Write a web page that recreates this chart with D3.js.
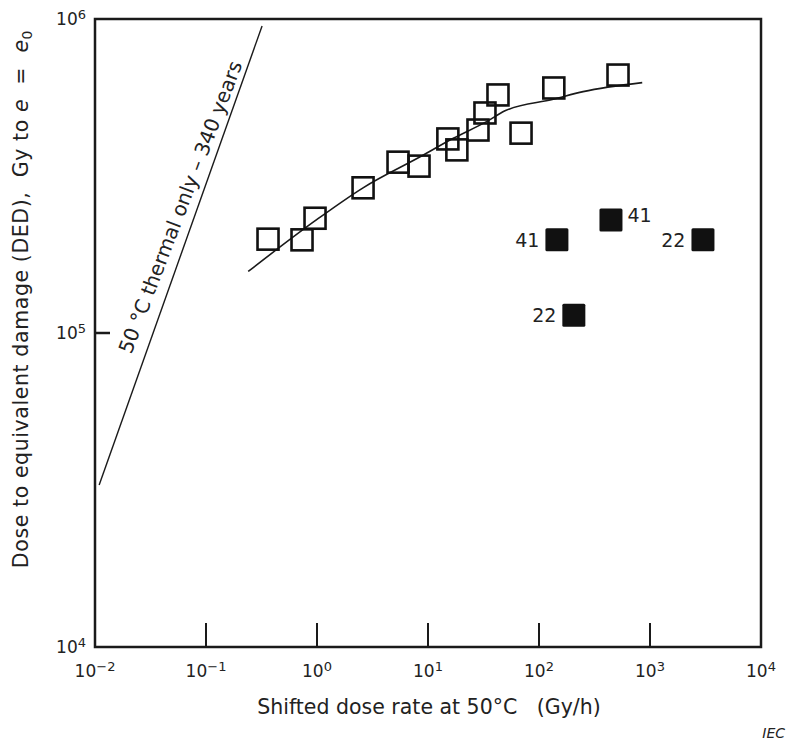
<html>
<head>
	<meta charset="UTF-8">
	<title>Dose to equivalent damage</title>
	<script src="https://cdn.jsdelivr.net/npm/d3@7"></script>
	<style>
		body {
			padding: 0;
			margin: 0;
			background: #fff;
		}
		text {
			font-family: "DejaVu Sans", sans-serif;
			fill: #222;
		}
	</style>
</head>
<body>
	<script>
		var w = 789,
			h = 744;

		// open squares (shifted dose rate Gy/h, DED Gy)
		var openX = [0.362, 0.733, 0.96, 2.6, 5.37, 8.3, 15.1, 18.2, 28.2, 32.6, 42.7, 68.9, 136, 515];
		var openY = [1.99e5, 1.98e5, 2.32e5, 2.9e5, 3.5e5, 3.4e5, 4.15e5, 3.83e5, 4.43e5, 5.02e5, 5.73e5, 4.33e5, 6.03e5, 6.63e5];

		// filled squares with their labels
		var filledX = [145, 445, 3000, 206];
		var filledY = [1.98e5, 2.29e5, 1.98e5, 1.14e5];
		var filledLabel = ["41", "41", "22", "22"];
		var labelSide = ["left", "right", "left", "left"];

		// fitted curve through the open squares
		var curveX = [0.24, 1.0, 2.6, 8.5, 16.9, 33.7, 49.4, 134.6, 250, 851];
		var curveY = [1.57e5, 2.3e5, 2.9e5, 3.64e5, 4.17e5, 4.71e5, 5.10e5, 5.55e5, 5.87e5, 6.27e5];

		// 50 °C thermal only line
		var thermalX = [0.0109, 0.32];
		var thermalY = [3.28e4, 9.5e5];

		var xTickExp = [-2, -1, 0, 1, 2, 3, 4];
		var yTickExp = [4, 5, 6];

		var x = d3.scaleLog().domain([1e-2, 1e4]).range([95, 761]);
		var y = d3.scaleLog().domain([1e4, 1e6]).range([647, 19]);

		var svg = d3.select("body").append("svg")
			.attr("width", w)
			.attr("height", h);

		// frame
		svg.append("rect")
			.attr("x", x(1e-2))
			.attr("y", y(1e6))
			.attr("width", x(1e4) - x(1e-2))
			.attr("height", y(1e4) - y(1e6))
			.attr("fill", "none")
			.attr("stroke", "#1a1a1a")
			.attr("stroke-width", 2.5);

		// inner x ticks
		svg.selectAll(".xtick")
			.data(xTickExp.slice(1, -1))
			.enter().append("line")
			.attr("x1", function (d) { return x(Math.pow(10, d)); })
			.attr("x2", function (d) { return x(Math.pow(10, d)); })
			.attr("y1", y(1e4))
			.attr("y2", y(1e4) - 24)
			.attr("stroke", "#1a1a1a")
			.attr("stroke-width", 2);

		// inner y tick at 10^5
		svg.append("line")
			.attr("x1", x(1e-2))
			.attr("x2", x(1e-2) + 15)
			.attr("y1", y(1e5))
			.attr("y2", y(1e5))
			.attr("stroke", "#1a1a1a")
			.attr("stroke-width", 2.5);

		function powLabel(sel, exp, supSize) {
			sel.append("tspan").text("10");
			sel.append("tspan")
				.attr("dy", -6)
				.attr("font-size", supSize)
				.text(String(exp).replace("-", "\u2212"));
		}

		// x tick labels
		xTickExp.forEach(function (e) {
			var t = svg.append("text")
				.attr("x", x(Math.pow(10, e)))
				.attr("y", 677)
				.attr("text-anchor", "middle")
				.attr("font-size", 17);
			powLabel(t, e, 13);
		});

		// y tick labels
		yTickExp.forEach(function (e) {
			var t = svg.append("text")
				.attr("x", 86)
				.attr("y", y(Math.pow(10, e)) + 6)
				.attr("text-anchor", "end")
				.attr("font-size", 17);
			powLabel(t, e, 13);
		});

		// thermal line
		var thermal = d3.zip(thermalX, thermalY);
		svg.append("path")
			.attr("d", d3.line().x(function (d) { return x(d[0]); }).y(function (d) { return y(d[1]); })(thermal))
			.attr("fill", "none")
			.attr("stroke", "#1a1a1a")
			.attr("stroke-width", 1.4);

		// label along thermal line
		var p0 = [x(thermalX[0]), y(thermalY[0])],
			p1 = [x(thermalX[1]), y(thermalY[1])];
		var ang = Math.atan2(p1[1] - p0[1], p1[0] - p0[0]) * 180 / Math.PI;
		var mid = [p0[0] + (p1[0] - p0[0]) * 0.6, p0[1] + (p1[1] - p0[1]) * 0.6];
		svg.append("text")
			.attr("transform", "translate(" + (mid[0] - 10) + "," + mid[1] + ") rotate(" + (ang + 1.4) + ")")
			.attr("text-anchor", "middle")
			.attr("font-size", 20)
			.text("50 \u00B0C thermal only \u2013 340 years");

		// fitted curve
		var curve = d3.zip(curveX, curveY);
		svg.append("path")
			.attr("d", d3.line()
				.x(function (d) { return x(d[0]); })
				.y(function (d) { return y(d[1]); })
				.curve(d3.curveMonotoneX)(curve))
			.attr("fill", "none")
			.attr("stroke", "#1a1a1a")
			.attr("stroke-width", 1.6);

		// open squares
		var s = 21;
		svg.selectAll(".open")
			.data(d3.zip(openX, openY))
			.enter().append("rect")
			.attr("x", function (d) { return x(d[0]) - s / 2; })
			.attr("y", function (d) { return y(d[1]) - s / 2; })
			.attr("width", s)
			.attr("height", s)
			.attr("fill", "none")
			.attr("stroke", "#111")
			.attr("stroke-width", 2.6);

		// filled squares
		var fs = 23;
		var filled = filledX.map(function (v, i) {
			return { x: v, y: filledY[i], label: filledLabel[i], side: labelSide[i] };
		});
		svg.selectAll(".filled")
			.data(filled)
			.enter().append("rect")
			.attr("x", function (d) { return x(d.x) - fs / 2; })
			.attr("y", function (d) { return y(d.y) - fs / 2; })
			.attr("width", fs)
			.attr("height", fs)
			.attr("rx", 1.5)
			.attr("fill", "#111");

		svg.selectAll(".flabel")
			.data(filled)
			.enter().append("text")
			.attr("x", function (d) { return d.side == "left" ? x(d.x) - fs / 2 - 6 : x(d.x) + fs / 2 + 5; })
			.attr("y", function (d) { return y(d.y) + (d.side == "left" ? 7 : 2); })
			.attr("text-anchor", function (d) { return d.side == "left" ? "end" : "start"; })
			.attr("font-size", 19)
			.text(function (d) { return d.label; });

		// axis titles
		svg.append("text")
			.attr("x", 429)
			.attr("y", 714)
			.attr("text-anchor", "middle")
			.attr("font-size", 20.5)
			.style("white-space", "pre")
			.text("Shifted dose rate at 50\u00B0C   (Gy/h)");

		var yl = svg.append("text")
			.attr("transform", "translate(28,299) rotate(-90)")
			.attr("text-anchor", "middle")
			.attr("font-size", 20.5)
			.attr("letter-spacing", 0.6)
			.style("white-space", "pre");
		yl.append("tspan").text("Dose to equivalent damage (DED),  Gy to ");
		yl.append("tspan").attr("font-style", "italic").text("e");
		yl.append("tspan").text("  =  ");
		yl.append("tspan").attr("font-style", "italic").text("e");
		yl.append("tspan").attr("font-size", 14).attr("dy", 4).text("0");

		svg.append("text")
			.attr("x", 785)
			.attr("y", 738)
			.attr("text-anchor", "end")
			.attr("font-size", 14)
			.attr("font-style", "italic")
			.text("IEC");
	</script>
</body>
</html>
